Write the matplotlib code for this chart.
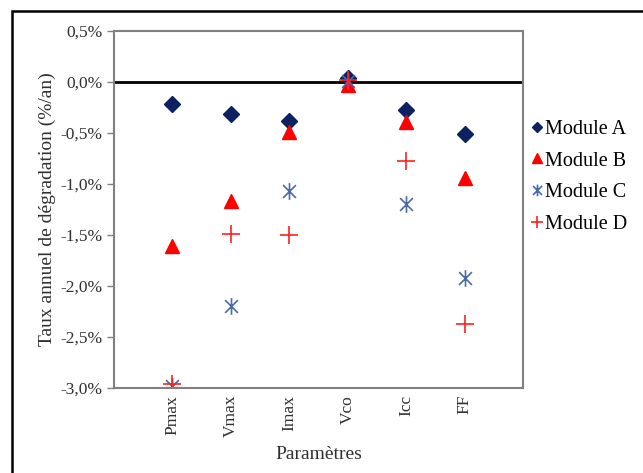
import numpy as np
import matplotlib
matplotlib.use("Agg")
import matplotlib.pyplot as plt
from matplotlib.path import Path
from matplotlib.patches import Rectangle
from matplotlib.ticker import FuncFormatter

plt.rcParams['font.family'] = ['Liberation Serif', 'DejaVu Serif']

# ==============================
# Data
# ==============================
parametres = ["Pmax", "Vmax", "Imax", "Vco", "Icc", "FF"]
module_a = [-0.22, -0.31, -0.38, 0.04, -0.27, -0.51]
module_b = [-1.61, -1.17, -0.49, -0.03, -0.39, -0.94]
module_c = [-2.98, -2.20, -1.07, 0.01, -1.20, -1.92]
module_d = [-2.96, -1.49, -1.50, 0.02, -0.77, -2.37]
y_ticks = [0.5, 0.0, -0.5, -1.0, -1.5, -2.0, -2.5, -3.0]

# Excel-like star marker: X with a vertical bar
star = Path([(-1, -1), (1, 1), (-1, 1), (1, -1), (0, -1.3), (0, 1.3)],
            [Path.MOVETO, Path.LINETO, Path.MOVETO, Path.LINETO, Path.MOVETO, Path.LINETO])

fig = plt.figure(figsize=(6.43, 4.73), dpi=100)
ax = fig.add_axes([0.1773, 0.1797, 0.636, 0.7548])

x = np.arange(1, len(parametres) + 1)
ax.plot(x, module_a, linestyle='none', marker='D', markersize=8, color='#0b2161', label='Module A')
ax.plot(x, module_b, linestyle='none', marker='^', markersize=10, color='#ff0000', label='Module B')
ax.plot(x, module_c, linestyle='none', marker=star, markersize=12, markeredgewidth=1.2,
        color='#4a6aa8', markerfacecolor='none', label='Module C')
ax.plot(x, module_d, linestyle='none', marker='+', markersize=13, markeredgewidth=1.2,
        color='#ff2020', label='Module D')

ax.axhline(0, color='black', linewidth=2, zorder=1)

ax.set_xlim(0, 7)
ax.set_ylim(-3.0, 0.5)
ax.set_xticks(x)
ax.set_xticklabels(parametres, rotation=90, fontsize=12.5, color='#303030')
ax.tick_params(axis='x', length=0, pad=5)
ax.set_yticks(y_ticks)
ax.yaxis.set_major_formatter(FuncFormatter(lambda v, p: f"{v:.1f}%".replace('.', ',')))
ax.tick_params(axis='y', labelsize=12.5, labelcolor='#303030', length=5, width=1, color='#808080', direction='out')

for s in ax.spines.values():
    s.set_color('#808080')
    s.set_linewidth(1.5)

ax.set_ylabel('Taux annuel de dégradation (%/an)', fontsize=14, color='#303030', labelpad=3)
ax.set_xlabel('Paramètres', fontsize=14, color='#303030', labelpad=6)

ax.legend(loc='upper left', bbox_to_anchor=(0.99, 0.785), frameon=False, fontsize=14.5,
          markerscale=0.7, handlelength=0.6, handletextpad=0.1, labelspacing=0.62, borderaxespad=0.2)

# outer frame
fig.patches.append(Rectangle((12 / 643, -0.05), 1.2, 1 - 11 / 473 + 0.05,
                             transform=fig.transFigure, fill=False,
                             edgecolor='black', linewidth=1.8))

fig.savefig('out.png', dpi=100)
